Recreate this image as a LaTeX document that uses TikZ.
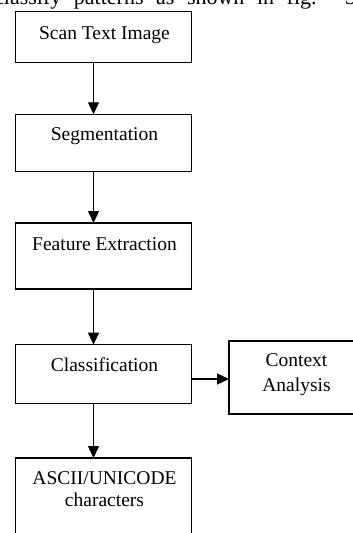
\documentclass[tikz,border=0pt]{standalone}
\usepackage{fontspec}
\setmainfont{Liberation Serif}
\usetikzlibrary{arrows.meta}
\tikzset{
  box/.style={draw, line width=1.3pt, rectangle, inner sep=0pt, outer sep=0pt},
  lbl/.style={anchor=base, inner sep=0pt, font=\fontsize{19.5pt}{23pt}\selectfont},
  arr/.style={line width=1.3pt, -{Triangle[width=11pt,length=12pt]}}
}
\begin{document}
\begin{tikzpicture}[x=1pt,y=-1pt]
\useasboundingbox (0,0) rectangle (353,533);
\clip (0,0) rectangle (353,533);
\fill[white] (0,0) rectangle (353,533);
% cropped line of running text at the top
\node[anchor=base west, inner sep=0pt, font=\fontsize{22pt}{26pt}\selectfont] (top) at (-6,4.5) {\makebox[362pt][s]{classify patterns as shown in fig. 3}};
% boxes
\node[box, minimum width=176pt, minimum height=51pt] (b1) at (103.5,37) {};
\node[box, minimum width=176pt, minimum height=57pt] (b2) at (103.5,142.8) {};
\node[box, minimum width=176pt, minimum height=66pt] (b3) at (103.5,256) {};
\node[box, minimum width=176pt, minimum height=58.7pt] (b4) at (103.5,374) {};
\node[box, minimum width=135pt, minimum height=73pt] (ctx) at (296.5,377.5) {};
\node[box, minimum width=176pt, minimum height=102pt] (b5) at (103.5,509) {};
% labels
\node[lbl] (t1) at (104.5,39.2) {Scan Text Image};
\node[lbl] (t2) at (104.5,140.2) {Segmentation};
\node[lbl] (t3) at (104.5,250.3) {Feature Extraction};
\node[lbl] (t4) at (104.5,371.8) {Classification};
\node[lbl] (t5a) at (296.5,366) {Context};
\node[lbl] (t5b) at (296.5,391.5) {Analysis};
\node[lbl] (t6a) at (104.5,484.3) {ASCII/UNICODE};
\node[lbl] (t6b) at (104.5,506.7) {characters};
% connectors
\coordinate (ax) at (93.5,0);
\coordinate (hy) at (0,379);
\draw[arr] (b1.south -| ax) -- (b2.north -| ax);
\draw[arr] (b2.south -| ax) -- (b3.north -| ax);
\draw[arr] (b3.south -| ax) -- (b4.north -| ax);
\draw[arr] (b4.south -| ax) -- (b5.north -| ax);
\draw[arr] (b4.east |- hy) -- (ctx.west |- hy);
\end{tikzpicture}
\end{document}
